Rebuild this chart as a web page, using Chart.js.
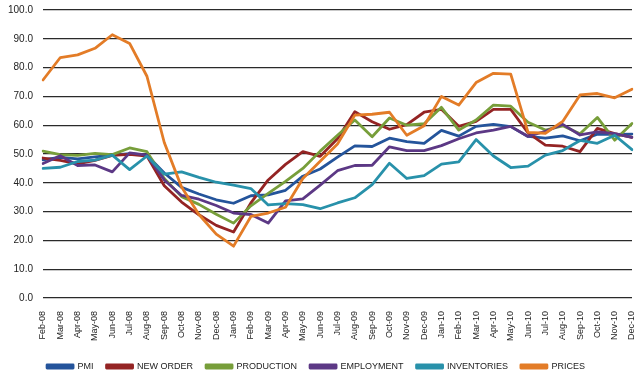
<!DOCTYPE html>
<html><head><meta charset="utf-8">
<script src="https://cdn.jsdelivr.net/npm/chart.js@4/dist/chart.umd.min.js"></script>
<style>html,body{margin:0;padding:0;background:#fff;}#wrap{width:639px;height:383px;}</style>
</head><body><div id="wrap"><canvas id="c" width="639" height="383"></canvas></div>
<script>
const months = ['Feb-08','Mar-08','Apr-08','May-08','Jun-08','Jul-08','Aug-08','Sep-08','Oct-08','Nov-08','Dec-08',
  'Jan-09','Feb-09','Mar-09','Apr-09','May-09','Jun-09','Jul-09','Aug-09','Sep-09','Oct-09','Nov-09','Dec-09',
  'Jan-10','Feb-10','Mar-10','Apr-10','May-10','Jun-10','Jul-10','Aug-10','Sep-10','Oct-10','Nov-10','Dec-10'];
const yTicks = [0,10,20,30,40,50,60,70,80,90,100];

const pmi = [48.0,48.8,48.3,49.0,49.6,50.1,49.6,43.4,38.4,36.1,34.1,
  32.9,35.5,35.8,37.4,42.3,44.8,48.9,52.8,52.6,55.5,54.3,53.7,
  58.2,56.2,59.6,60.3,59.5,56.1,55.5,56.3,54.6,56.9,56.8,56.9];
const newOrder = [48.6,47.8,46.6,47.8,49.5,49.9,49.3,39.0,33.3,28.9,25.2,
  22.9,33.0,41.0,46.4,50.8,49.2,55.3,64.7,61.2,58.6,60.2,64.5,
  65.5,59.6,61.3,65.5,65.5,57.3,53.1,52.7,50.8,58.9,57.1,55.8];
const production = [51.0,49.8,49.5,50.2,49.8,52.1,50.8,41.5,35.2,32.5,29.1,
  26.0,32.0,36.3,40.5,45.0,51.0,56.5,61.8,56.0,62.5,60.0,60.5,
  66.2,58.3,61.8,67.0,66.6,61.0,58.3,59.8,57.0,62.7,54.8,60.6];
const employment = [46.7,49.4,46.0,46.2,43.8,50.4,49.6,41.0,35.6,34.3,32.1,
  29.5,29.0,26.0,33.7,34.4,39.2,44.2,46.0,46.1,52.5,51.2,51.2,
  52.9,55.3,57.3,58.3,59.6,56.1,57.9,60.3,56.6,57.7,57.1,55.8];
const inventories = [45.0,45.4,47.4,47.9,49.6,44.6,49.3,43.0,43.8,41.9,40.2,
  39.2,38.0,32.3,32.8,32.4,31.0,33.0,34.8,39.4,46.8,41.5,42.5,
  46.5,47.3,55.0,49.3,45.3,45.8,49.6,51.2,54.7,53.7,56.5,51.5];
const prices = [75.7,83.5,84.4,86.7,91.4,88.4,77.0,54.0,38.5,29.0,22.2,
  18.0,28.3,29.5,31.5,41.5,47.5,53.5,63.5,63.8,64.5,56.5,59.8,
  70.0,67.0,74.8,78.0,77.7,57.5,57.2,61.3,70.5,71.0,69.5,72.5];

const seriesNames = ['PMI','NEW ORDER','PRODUCTION','EMPLOYMENT','INVENTORIES','PRICES'];
const seriesData = [pmi,newOrder,production,employment,inventories,prices];
const seriesColors = ['#24549B','#942424','#779E3A','#5C3885','#2891AA','#E37C27'];

const datasets = seriesNames.map((n,i)=>({
  label:n, data:seriesData[i], borderColor:seriesColors[i], backgroundColor:seriesColors[i],
  borderWidth:2.8, pointRadius:0, tension:0, fill:false, order:5-i,
  borderJoinStyle:'round', borderCapStyle:'round'
}));

new Chart(document.getElementById('c'), {
  type:'line',
  data:{labels:months, datasets},
  options:{
    responsive:false, animation:false, devicePixelRatio:1,
    layout:{padding:{left:0,right:7,top:10,bottom:2}},
    plugins:{
      legend:{position:'bottom',
        labels:{boxWidth:26,boxHeight:3,padding:13,color:'#222',
          font:{family:'Liberation Sans',size:9},
          sort:(a,b)=>a.datasetIndex-b.datasetIndex}},
      tooltip:{enabled:false}
    },
    scales:{
      x:{
        grid:{display:false,drawTicks:false},
        border:{display:false},
        ticks:{autoSkip:false,maxRotation:90,minRotation:90,padding:13,color:'#222',
          font:{family:'Liberation Sans',size:9}},
        afterFit:(s)=>{s.height=51;s.paddingLeft=0;s.paddingRight=0;}
      },
      y:{
        min:0,max:100,
        afterBuildTicks:(s)=>{s.ticks=yTicks.map(v=>({value:v}));},
        grid:{color:'#2a2a2a',lineWidth:1.3,drawTicks:false},
        border:{display:false},
        ticks:{padding:10,color:'#222',font:{family:'Liberation Sans',size:10},
          callback:(v)=>Number(v).toFixed(1)},
        afterFit:(s)=>{s.width=43;s.paddingTop=0;s.paddingBottom=0;}
      }
    }
  }
});
</script></body></html>
